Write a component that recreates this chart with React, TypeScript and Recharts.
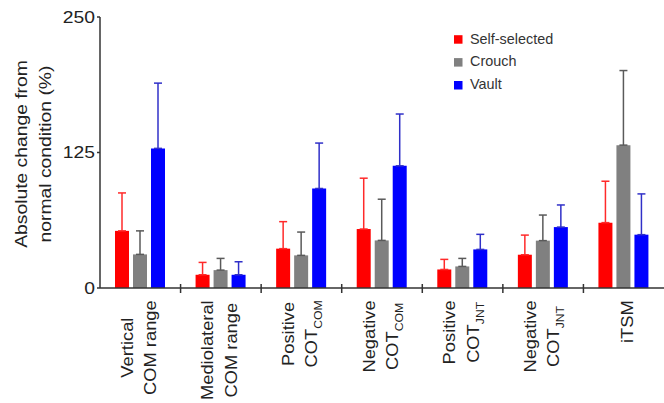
import React from 'react';
import { BarChart, Bar, XAxis, YAxis, ErrorBar, Legend } from 'recharts';

const categories = [
  'Vertical COM range',
  'Mediolateral COM range',
  'Positive COT COM',
  'Negative COT COM',
  'Positive COT JNT',
  'Negative COT JNT',
  'iTSM',
];
// each line: [main text, subscript]
const categoryLabelLines: [string, string][][] = [
  [['Vertical', ''], ['COM range', '']],
  [['Mediolateral', ''], ['COM range', '']],
  [['Positive', ''], ['COT', 'COM']],
  [['Negative', ''], ['COT', 'COM']],
  [['Positive', ''], ['COT', 'JNT']],
  [['Negative', ''], ['COT', 'JNT']],
  [['iTSM', '']],
];
const seriesNames = ['Self-selected', 'Crouch', 'Vault'];
const selfSelected = [52.7, 12.2, 36.3, 54.4, 17.1, 30.7, 60.3];
const selfSelectedErr = [35, 11.4, 24.9, 46.9, 9.3, 18.1, 38.2];
const crouch = [31, 16.5, 30.1, 43.9, 19.9, 43.7, 131.8];
const crouchErr = [21.7, 10.8, 21.5, 38, 7.4, 23.6, 68.8];
const vault = [128.8, 12.2, 91.8, 112.7, 35.6, 56.2, 49.2];
const vaultErr = [60.2, 12, 41.9, 47.8, 13.9, 20.4, 37.6];
const yTicks = [0, 125, 250];
const yLabelLines = ['Absolute change from', 'normal condition (%)'];

const data = categories.map((name, i) => ({
  name,
  self: selfSelected[i],
  selfErr: [0, selfSelectedErr[i]],
  crouch: crouch[i],
  crouchErr: [0, crouchErr[i]],
  vault: vault[i],
  vaultErr: [0, vaultErr[i]],
}));

const FONT = "'Liberation Sans', Arial, Helvetica, sans-serif";
const MAIN = 16.5;
const STRETCH_X = 1.11;
const STRETCH_Y = 1.17;
const SUB = 11;
const TEXT = '#222';
const AXIS = '#333';
const W = 664;
const H = 403;
const TOP = 17;
const XAXIS_H = 115;

let ctx: CanvasRenderingContext2D | null = null;
function measure(text: string, size: number) {
  if (!ctx) ctx = document.createElement('canvas').getContext('2d');
  if (!ctx) return text.length * size * 0.55;
  ctx.font = `${size}px ${FONT}`;
  return ctx.measureText(text).width;
}

function CategoryTick(props: any) {
  const { x, y, payload, index } = props;
  const i = payload?.index ?? index;
  const lines = categoryLabelLines[i] || [];
  const n = lines.length;
  const half = payload?.offset ?? 40.3;
  const widths = lines.map(
    ([m, s]) => (measure(m, MAIN) + (s ? measure(s, SUB) : 0)) * STRETCH_X
  );
  const maxW = Math.max(...widths);
  const along = y + 12.3 + maxW / 2;
  return (
    <g>
      {i < categories.length - 1 && (
        <line x1={x + half} x2={x + half} y1={y - 4} y2={y + 5} stroke={AXIS} strokeWidth={1.5} />
      )}
      {lines.map(([m, s], k) => {
        const base = x + 4.3 + (k - (n - 1) / 2) * 23.5 + (n === 1 ? 5 : 0);
        return (
          <text
            key={k}
            transform={`translate(${base},${along}) rotate(-90) scale(${STRETCH_X},1)`}
            textAnchor="middle"
            fontFamily={FONT}
            fontSize={MAIN}
            fill={TEXT}
          >
            <tspan>{m}</tspan>
            {s ? (
              <tspan dy={5} fontSize={SUB}>
                {s}
              </tspan>
            ) : null}
          </text>
        );
      })}
    </g>
  );
}

function YTick(props: any) {
  const { x, y, payload } = props;
  return (
    <text
      transform={`translate(${x},${y}) scale(${STRETCH_Y},1)`}
      textAnchor="end"
      dy="0.36em"
      fontFamily={FONT}
      fontSize={MAIN}
      fill={TEXT}
    >
      {payload.value}
    </text>
  );
}

function YLabel() {
  const plotH = H - TOP - XAXIS_H;
  const cy = TOP + plotH / 2 + 1.5;
  return (
    <g>
      {yLabelLines.map((t, k) => (
        <text
          key={k}
          transform={`translate(${26.7 + k * 23.8},${cy}) rotate(-90) scale(${STRETCH_Y},1)`}
          textAnchor="middle"
          fontFamily={FONT}
          fontSize={MAIN}
          fill={TEXT}
        >
          {t}
        </text>
      ))}
    </g>
  );
}

function LegendContent(props: any) {
  const payload = [...(props.payload || [])].sort(
    (a: any, b: any) => seriesNames.indexOf(a.value) - seriesNames.indexOf(b.value)
  );
  return (
    <svg width={130} height={100} style={{ display: 'block' }}>
      {payload.map((p: any, k: number) => (
        <g key={k}>
          <rect x={0} y={35.2 + k * 22.9} width={8.5} height={8.5} fill={p.color} />
          <text x={16} y={43.5 + k * 22.9} fontFamily={FONT} fontSize={14.4} fill="#333">
            {p.value}
          </text>
        </g>
      ))}
    </svg>
  );
}

export default function App() {
  return (
    <div style={{ position: 'absolute', left: 0, top: 0 }}>
      <BarChart
        width={W}
        height={H}
        data={data}
        margin={{ top: TOP, right: 0, left: 0, bottom: 0 }}
        barGap={4}
        barSize={14}
      >
        <XAxis
          dataKey="name"
          type="category"
          interval={0}
          height={XAXIS_H}
          tickLine={false}
          tickSize={0}
          tickMargin={0}
          axisLine={{ stroke: AXIS, strokeWidth: 1.5 }}
          tick={<CategoryTick />}
        />
        <YAxis
          type="number"
          domain={[0, 250]}
          ticks={yTicks}
          width={100}
          tickSize={3}
          tickMargin={2}
          axisLine={{ stroke: AXIS, strokeWidth: 1.5 }}
          tickLine={{ stroke: AXIS, strokeWidth: 1.5 }}
          tick={<YTick />}
          label={{ content: <YLabel /> }}
        />
        <Legend
          layout="vertical"
          align="center"
          verticalAlign="middle"
          content={<LegendContent />}
          wrapperStyle={{ position: 'absolute', left: 454, top: 0, width: 130, height: 100 }}
        />
        <Bar dataKey="self" name={seriesNames[0]} fill="#ff0000" isAnimationActive={false}>
          <ErrorBar dataKey="selfErr" direction="y" width={4} stroke="#ff2a2a" strokeWidth={1.5} isAnimationActive={false} />
        </Bar>
        <Bar dataKey="crouch" name={seriesNames[1]} fill="#808080" isAnimationActive={false}>
          <ErrorBar dataKey="crouchErr" direction="y" width={4} stroke="#5a5a5a" strokeWidth={1.5} isAnimationActive={false} />
        </Bar>
        <Bar dataKey="vault" name={seriesNames[2]} fill="#0000ff" isAnimationActive={false}>
          <ErrorBar dataKey="vaultErr" direction="y" width={4} stroke="#3030c8" strokeWidth={1.5} isAnimationActive={false} />
        </Bar>
      </BarChart>
    </div>
  );
}
